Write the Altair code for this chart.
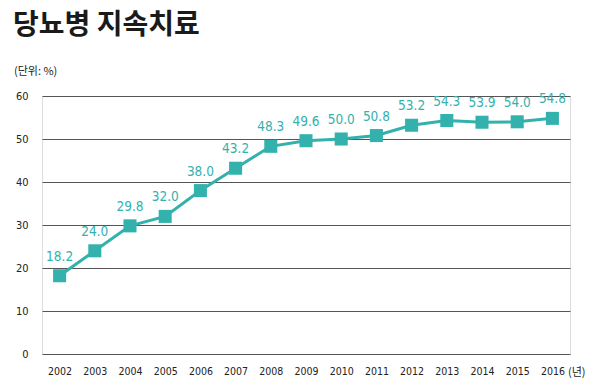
import altair as alt
import pandas as pd

years = [2002, 2003, 2004, 2005, 2006, 2007, 2008, 2009, 2010, 2011, 2012, 2013, 2014, 2015, 2016]
values = [18.2, 24.0, 29.8, 32.0, 38.0, 43.2, 48.3, 49.6, 50.0, 50.8, 53.2, 54.3, 53.9, 54.0, 54.8]
y_ticks = [0, 10, 20, 30, 40, 50, 60]

df = pd.DataFrame({"year": years, "value": values})
df["label"] = [f"{v:.1f}" for v in values]

TEAL = "#33b1ac"
NUMFONT = "DejaVu Sans Condensed"

x = alt.X("year:Q", scale=alt.Scale(domain=[2001.5, 2016.5], nice=False, zero=False),
          axis=alt.Axis(values=years, format="d", title=None, grid=False, domain=False, ticks=False,
                        labelOverlap=False, labelBound=False, labelFlush=False, labelFont=NUMFONT,
                        labelFontSize=10.5, labelColor="#222", labelPadding=12))
y = alt.Y("value:Q", scale=alt.Scale(domain=[0, 60], nice=False),
          axis=alt.Axis(values=y_ticks, title=None, grid=True, gridColor="#555", gridWidth=1,
                        domain=False, ticks=False, labelOverlap=False, labelFont=NUMFONT,
                        labelFontSize=11, labelColor="#222", labelPadding=14))

base = alt.Chart(df)
line = base.mark_line(color=TEAL, strokeWidth=3).encode(x=x, y=y)
pts = base.mark_square(color=TEAL, size=170, opacity=1, cornerRadius=3).encode(x=x, y=y)
labels = base.mark_text(color=TEAL, font=NUMFONT, fontSize=13.5, dy=-19).encode(
    x=x, y=y, text="label:N")

title = alt.Chart(pd.DataFrame({"t": ["당뇨병 지속치료"]})).mark_text(
    font="Noto Sans CJK KR", fontWeight="bold", fontSize=28, align="left", baseline="middle", color="#1a1a1a"
).encode(x=alt.value(-29), y=alt.value(-70), text="t:N")
unit = alt.Chart(pd.DataFrame({"t": ["(단위: %)"]})).mark_text(
    font="Noto Sans CJK KR", fontSize=11, align="left", baseline="middle", color="#222"
).encode(x=alt.value(-28), y=alt.value(-24), text="t:N")
nyear = alt.Chart(pd.DataFrame({"t": ["(년)"]})).mark_text(
    font="Noto Sans CJK KR", fontSize=11, align="left", baseline="middle", color="#222"
).encode(x=alt.value(526), y=alt.value(277), text="t:N")

chart = alt.layer(line, pts, labels, title, unit, nyear).properties(
    width=528, height=258,
    autosize=alt.AutoSizeParams(type="none"),
    padding={"left": 34, "top": 88, "right": 16, "bottom": 25},
).configure_view(stroke=None).configure(background="white")

chart.save("out.html", embed_options={"renderer": "svg", "actions": False})
